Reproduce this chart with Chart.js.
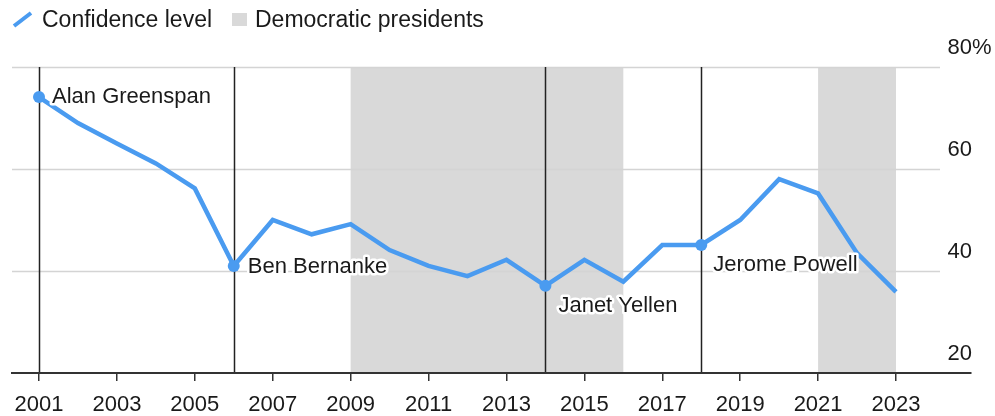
<!DOCTYPE html>
<html>
<head>
<meta charset="utf-8">
<script src="https://cdn.jsdelivr.net/npm/chart.js@4/dist/chart.umd.min.js"></script>
<style>
    body { margin: 0; background: #fff; font-family: "Liberation Sans", Arial, sans-serif; }
    #wrap { position: relative; width: 995px; height: 416px; }
    #chart { position: absolute; left: 0; top: 0; }
    .leg { position: absolute; top: 6px; font-size: 23px; line-height: 26px; color: #1a1a1a; white-space: nowrap; }
    #leg-line { position: absolute; left: 12px; top: 11px; }
    #leg-box { position: absolute; left: 232px; top: 13px; width: 15px; height: 13px; background: #d9d9d9; }
</style>
</head>
<body>
<div id="wrap">
    <canvas id="chart" width="995" height="416"></canvas>
    <svg id="leg-line" width="22" height="17"><line x1="2" y1="15" x2="19" y2="2" stroke="#4a9bf0" stroke-width="4"/></svg>
    <span class="leg" style="left:42px">Confidence level</span>
    <div id="leg-box"></div>
    <span class="leg" style="left:255px">Democratic presidents</span>
</div>
<script>
// data
const years = [2001, 2002, 2003, 2004, 2005, 2006, 2007, 2008, 2009, 2010, 2011, 2012,
    2013, 2014, 2015, 2016, 2017, 2018, 2019, 2020, 2021, 2022, 2023];
const confidence = [74.1, 69, 65, 61.1, 56.2, 41, 50, 47.2, 49.2, 44.1, 41, 39,
    42.2, 37.1, 42.2, 37.9, 45.1, 45.1, 50, 58, 55.2, 43.5, 35.9];
const xTicks = [2001, 2003, 2005, 2007, 2009, 2011, 2013, 2015, 2017, 2019, 2021, 2023];
const yTicks = [20, 40, 60, 80];
const chairNames = ["Alan Greenspan", "Ben Bernanke", "Janet Yellen", "Jerome Powell"];
const chairYears = [2001, 2006, 2014, 2018];
const demStart = [2009, 2021];
const demEnd = [2016, 2023];

const blue = "#4a9bf0";
const ink = "#1a1a1a";
const font = '"Liberation Sans", Arial, sans-serif';
// label offsets from each chair's point (px)
const labelOffsets = [[13, 6], [14, 7], [13, 26], [12, 26]];

const decor = {
    id: "decor",
    beforeDraw(chart) {
        const { ctx, chartArea: a, scales: { x, y } } = chart;
        ctx.save();
        // democratic presidents shading
        ctx.fillStyle = "#d9d9d9";
        demStart.forEach((s, i) => {
            const x0 = x.getPixelForValue(s);
            const x1 = x.getPixelForValue(demEnd[i]);
            ctx.fillRect(x0, a.top, x1 - x0, a.bottom - a.top);
        });
        // horizontal grid
        ctx.strokeStyle = "#d4d4d4";
        ctx.lineWidth = 1.5;
        yTicks.forEach((v) => {
            if (v === y.min) return;
            const py = Math.round(y.getPixelForValue(v)) + 0.5;
            ctx.beginPath();
            ctx.moveTo(a.left, py);
            ctx.lineTo(a.right - 31, py);
            ctx.stroke();
        });
        // y labels, sitting above the grid lines
        ctx.fillStyle = ink;
        ctx.font = "22px " + font;
        ctx.textBaseline = "alphabetic";
        yTicks.forEach((v, i) => {
            const py = y.getPixelForValue(v) - 13;
            ctx.textAlign = "right";
            ctx.fillText(String(v), a.right + 1, py);
            if (i === yTicks.length - 1) {
                ctx.textAlign = "left";
                ctx.fillText("%", a.right + 1, py);
            }
        });
        // fed chair lines
        ctx.strokeStyle = "#222";
        ctx.lineWidth = 1.5;
        chairYears.forEach((yr) => {
            const px = Math.round(x.getPixelForValue(yr)) + 0.5;
            ctx.beginPath();
            ctx.moveTo(px, a.top);
            ctx.lineTo(px, a.bottom);
            ctx.stroke();
        });
        ctx.restore();
    },
    afterDatasetsDraw(chart) {
        const { ctx, scales: { x, y } } = chart;
        ctx.save();
        ctx.font = "22px " + font;
        ctx.textAlign = "left";
        ctx.textBaseline = "alphabetic";
        ctx.lineJoin = "round";
        ctx.lineWidth = 5;
        ctx.strokeStyle = "#fff";
        ctx.fillStyle = ink;
        chairNames.forEach((name, i) => {
            const idx = years.indexOf(chairYears[i]);
            const px = x.getPixelForValue(chairYears[i]) + labelOffsets[i][0];
            const py = y.getPixelForValue(confidence[idx]) + labelOffsets[i][1];
            ctx.strokeText(name, px, py);
            ctx.fillText(name, px, py);
        });
        ctx.restore();
    },
};

new Chart(document.getElementById("chart"), {
    type: "line",
    data: {
        datasets: [
            {
                label: "Confidence level",
                data: years.map((yr, i) => ({ x: yr, y: confidence[i] })),
                borderColor: blue,
                backgroundColor: blue,
                borderWidth: 4.5,
                tension: 0,
                pointRadius: years.map((yr) => (chairYears.includes(yr) ? 6 : 0)),
                pointBorderWidth: 0,
                pointBackgroundColor: blue,
            },
        ],
    },
    options: {
        responsive: false,
        animation: false,
        devicePixelRatio: 1,
        layout: { padding: { left: 12, right: 24, top: 67, bottom: 0 } },
        scales: {
            x: {
                type: "linear",
                min: 2000.307,
                max: 2024.925,
                afterBuildTicks: (s) => {
                    s.ticks = xTicks.map((v) => ({ value: v }));
                },
                afterFit: (s) => {
                    s.height = 43;
                },
                grid: {
                    drawOnChartArea: false,
                    drawTicks: true,
                    tickLength: 8,
                    color: "#333",
                    lineWidth: 1.5,
                },
                border: { display: true, color: "#333", width: 2 },
                ticks: {
                    padding: 11,
                    color: ink,
                    autoSkip: false,
                    maxRotation: 0,
                    font: { family: font, size: 22 },
                    callback: (v) => String(v),
                },
            },
            y: { display: false, min: 20, max: 80 },
        },
        plugins: {
            legend: { display: false },
            tooltip: { enabled: false },
        },
    },
    plugins: [decor],
});
</script>
</body>
</html>
